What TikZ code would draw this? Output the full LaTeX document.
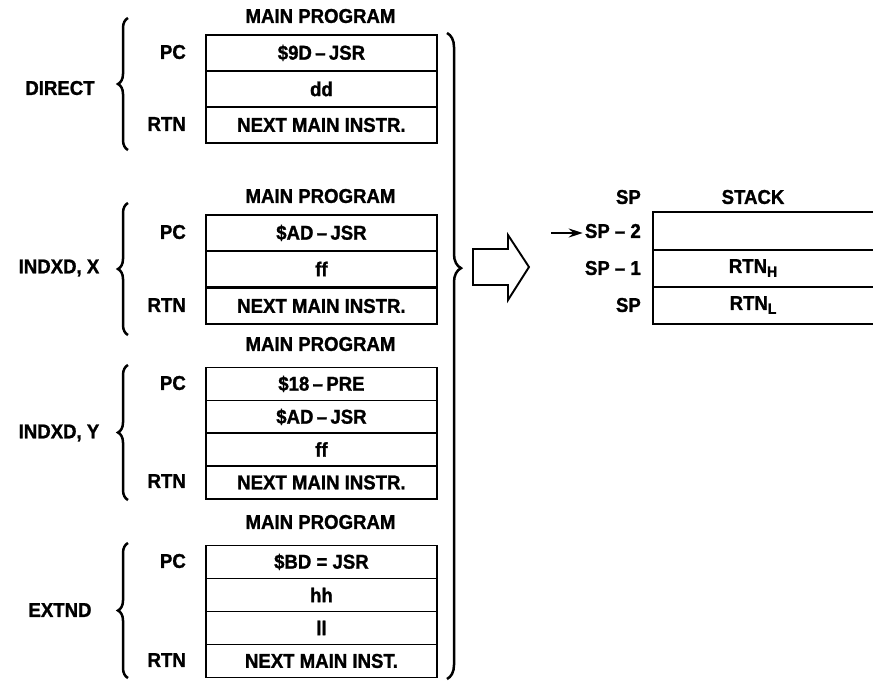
\documentclass[tikz,border=0pt]{standalone}
\usepackage{fontspec}
\setmainfont{Liberation Sans}[FakeStretch=0.93,FakeBold=1.2]
\usetikzlibrary{decorations.pathreplacing,arrows.meta}
\begin{document}
\begin{tikzpicture}[x=1pt,y=-1pt,
  txt/.style={font=\fontsize{20}{20}\bfseries\selectfont, inner sep=0pt},
  cell/.style={txt, draw, line width=1.9pt, minimum width=231pt, anchor=north west},
  rowa/.style={cell, minimum height=36pt},
  rowb/.style={cell, minimum height=33pt},
  lbl/.style={txt, anchor=east},
  brc/.style={decorate, line width=2.5pt, decoration={brace, amplitude=10pt}},
  rule/.style={line width=1.9pt}]
\useasboundingbox (0,0) rectangle (873,689);

% ---------- block 1: DIRECT ----------
\node[txt] (h1) at (320.5,16) {MAIN PROGRAM};
\node[rowa] (c11) at (205,34) {\$9D\,–\,JSR};
\node[rowa] (c12) at (205,70) {dd};
\node[rowa] (c13) at (205,106) {NEXT MAIN INSTR.};
\node[lbl] (pc1) at (186,52) {PC};
\node[lbl] (rt1) at (186,124) {RTN};
\node[txt] (m1) at (60,88) {DIRECT};
\coordinate (b1s) at (128,150);
\coordinate (b1e) at (128,18);
\draw[brc] (b1s) -- (b1e);

% ---------- block 2: INDXD, X ----------
\node[txt] (h2) at (320.5,196) {MAIN PROGRAM};
\node[rowa] (c21) at (205,214) {\$AD\,–\,JSR};
\node[rowa] (c22) at (205,250) {ff};
\node[rowa] (c23) at (205,287) {NEXT MAIN INSTR.};
\node[lbl] (pc2) at (186,232) {PC};
\node[lbl] (rt2) at (186,305) {RTN};
\node[txt] (m2) at (59,268) {INDXD, X};
\coordinate (b2s) at (128,335);
\coordinate (b2e) at (128,203);
\draw[brc] (b2s) -- (b2e);

% ---------- block 3: INDXD, Y ----------
\node[txt] (h3) at (320.5,344) {MAIN PROGRAM};
\node[rowb] (c31) at (205,366.5) {\$18\,–\,PRE};
\node[rowb] (c32) at (205,399.5) {\$AD\,–\,JSR};
\node[rowb] (c33) at (205,432) {ff};
\node[rowb] (c34) at (205,465) {NEXT MAIN INSTR.};
\node[lbl] (pc3) at (186,383) {PC};
\node[lbl] (rt3) at (186,481) {RTN};
\node[txt] (m3) at (59,433) {INDXD, Y};
\coordinate (b3s) at (128,500);
\coordinate (b3e) at (128,365);
\draw[brc] (b3s) -- (b3e);

% ---------- block 4: EXTND ----------
\node[txt] (h4) at (320.5,522) {MAIN PROGRAM};
\node[rowb] (c41) at (205,544.5) {\$BD = JSR};
\node[rowb] (c42) at (205,577.5) {hh};
\node[rowb] (c43) at (205,610.5) {ll};
\node[rowb] (c44) at (205,643.5) {NEXT MAIN INST.};
\node[lbl] (pc4) at (186,561) {PC};
\node[lbl] (rt4) at (186,660) {RTN};
\node[txt] (m4) at (60,610) {EXTND};
\coordinate (b4s) at (128,678);
\coordinate (b4e) at (128,543);
\draw[brc] (b4s) -- (b4e);

% ---------- big right brace ----------
\coordinate (rbs) at (447,33);
\coordinate (rbe) at (447,679);
\draw[brc, decoration={brace, amplitude=14pt, aspect=0.364}] (rbs) -- (rbe);

% ---------- hollow arrow ----------
\draw[rule, line join=miter] (473,249) -- (508,249) -- (508,235) -- (529,267)
  -- (508,300) -- (508,285) -- (473,285) -- cycle;

% ---------- stack ----------
\node[txt] (sph) at (641,197) [anchor=east] {SP};
\node[txt] (stk) at (753,197) {STACK};
\draw[rule] (873,212) -- (653,212) -- (653,324) -- (873,324);
\draw[rule] (653,250) -- (873,250);
\draw[rule] (653,287) -- (873,287);
\node[lbl] (sp2) at (641,231) {SP – 2};
\node[lbl] (sp1) at (641,268) {SP – 1};
\node[lbl] (sp0) at (641,305) {SP};
\node[txt] (rh) at (753,268) {RTN\raisebox{-4pt}{\fontsize{15}{15}\selectfont H}};
\node[txt] (rl) at (753,305) {RTN\raisebox{-4pt}{\fontsize{15}{15}\selectfont L}};
\coordinate (arrs) at (551,233);
\draw[line width=1.8pt, -{Stealth[length=14pt,width=9pt]}, shorten >=2pt] (arrs) -- (sp2.west |- arrs);
\end{tikzpicture}
\end{document}
